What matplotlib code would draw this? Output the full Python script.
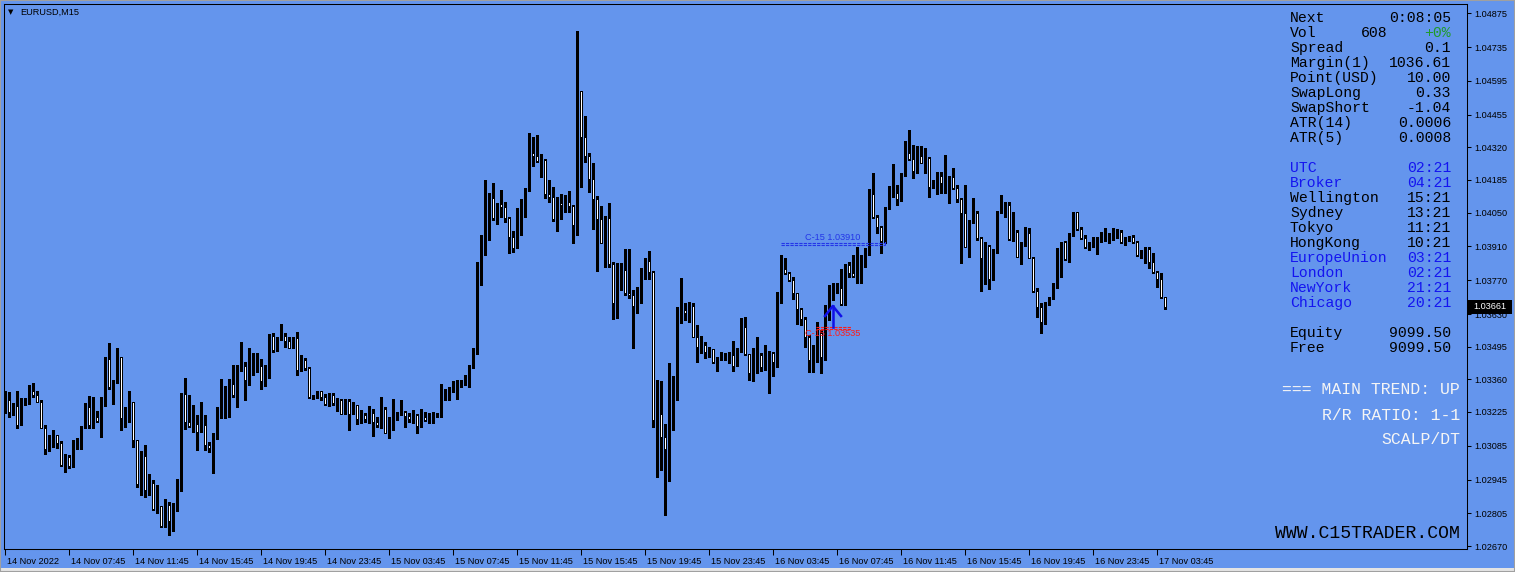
import matplotlib
matplotlib.use("Agg")
import matplotlib.pyplot as plt
from matplotlib.patches import Rectangle
from matplotlib.transforms import ScaledTranslation, blended_transform_factory
import numpy as np

plt.rcParams['font.family'] = ['Liberation Sans', 'DejaVu Sans']

symbol = "EURUSD,M15"
first_open = 1.03230

# EURUSD M15 bars, 14 Nov 03:45 -> 17 Nov 04:15
closes = [
    1.03274, 1.03224, 1.03249, 1.03172, 1.03260, 1.03256, 1.03311, 1.03295, 1.03268, 1.03159,
    1.03073, 1.03125, 1.03130, 1.03095, 1.03006, 1.03037, 1.03002, 1.03104, 1.03108, 1.03162,
    1.03244, 1.03172, 1.03205, 1.03188, 1.03281, 1.03442, 1.03329, 1.03349, 1.03451, 1.03198,
    1.03204, 1.03264, 1.03107, 1.02925, 1.03042, 1.02900, 1.02930, 1.02824, 1.02835, 1.02754,
    1.02838, 1.02772, 1.02838, 1.02939, 1.03297, 1.03182, 1.03166, 1.03173, 1.03143, 1.03169,
    1.03089, 1.03074, 1.03121, 1.03219, 1.03244, 1.03307, 1.03342, 1.03296, 1.03406, 1.03413,
    1.03355, 1.03394, 1.03413, 1.03416, 1.03354, 1.03394, 1.03539, 1.03481, 1.03533, 1.03539,
    1.03517, 1.03491, 1.03531, 1.03400, 1.03438, 1.03406, 1.03286, 1.03289, 1.03311, 1.03288,
    1.03259, 1.03293, 1.03260, 1.03275, 1.03217, 1.03271, 1.03217, 1.03252, 1.03197, 1.03211,
    1.03197, 1.03219, 1.03184, 1.03172, 1.03237, 1.03139, 1.03195, 1.03201, 1.03220, 1.03224,
    1.03206, 1.03197, 1.03212, 1.03165, 1.03205, 1.03191, 1.03187, 1.03212, 1.03213, 1.03289,
    1.03313, 1.03324, 1.03328, 1.03342, 1.03353, 1.03365, 1.03406, 1.03469, 1.03775, 1.03885,
    1.04077, 1.04109, 1.04029, 1.04084, 1.04074, 1.04029, 1.03947, 1.03904, 1.04030, 1.04042,
    1.04147, 1.04295, 1.04283, 1.04262, 1.04266, 1.04125, 1.04113, 1.04025, 1.04089, 1.04080,
    1.04095, 1.04077, 1.04000, 1.04553, 1.04364, 1.04283, 1.04187, 1.04105, 1.04025, 1.03925,
    1.04029, 1.03835, 1.03677, 1.03783, 1.03812, 1.03718, 1.03707, 1.03664, 1.03735, 1.03804,
    1.03849, 1.03802, 1.03191, 1.03216, 1.03122, 1.03072, 1.03201, 1.03332, 1.03651, 1.03646,
    1.03633, 1.03663, 1.03536, 1.03495, 1.03500, 1.03471, 1.03485, 1.03430, 1.03449, 1.03450,
    1.03453, 1.03460, 1.03416, 1.03481, 1.03575, 1.03463, 1.03387, 1.03456, 1.03460, 1.03412,
    1.03456, 1.03470, 1.03430, 1.03715, 1.03815, 1.03798, 1.03771, 1.03715, 1.03649, 1.03608,
    1.03536, 1.03440, 1.03498, 1.03552, 1.03452, 1.03634, 1.03713, 1.03736, 1.03739, 1.03670,
    1.03833, 1.03798, 1.03787, 1.03802, 1.03856, 1.03881, 1.04127, 1.04033, 1.03989, 1.03933,
    1.04067, 1.04127, 1.04130, 1.04105, 1.04205, 1.04298, 1.04270, 1.04222, 1.04284, 1.04256,
    1.04277, 1.04154, 1.04164, 1.04201, 1.04171, 1.04183, 1.04196, 1.04150, 1.04105, 1.04047,
    1.03909, 1.04015, 1.04047, 1.03946, 1.03860, 1.03911, 1.03776, 1.03887, 1.04053, 1.04056,
    1.04081, 1.03939, 1.03968, 1.03867, 1.03918, 1.03964, 1.03863, 1.03726, 1.03660, 1.03595,
    1.03674, 1.03697, 1.03743, 1.03849, 1.03928, 1.03856, 1.03957, 1.04052, 1.03982, 1.03943,
    1.03906, 1.03918, 1.03946, 1.03949, 1.03954, 1.03957, 1.03960, 1.03964, 1.03968, 1.03929,
    1.03939, 1.03950, 1.03928, 1.03874, 1.03877, 1.03899, 1.03846, 1.03805, 1.03773, 1.03699,
    1.03660,
]
highs = [
    1.03313, 1.03308, 1.03260, 1.03313, 1.03281, 1.03281, 1.03336, 1.03343, 1.03313, 1.03274,
    1.03169, 1.03129, 1.03150, 1.03129, 1.03106, 1.03050, 1.03046, 1.03108, 1.03115, 1.03166,
    1.03260, 1.03291, 1.03285, 1.03230, 1.03285, 1.03451, 1.03511, 1.03357, 1.03491, 1.03452,
    1.03246, 1.03313, 1.03267, 1.03108, 1.03064, 1.03086, 1.02968, 1.02943, 1.02922, 1.02830,
    1.02863, 1.02852, 1.02846, 1.02946, 1.03302, 1.03364, 1.03295, 1.03253, 1.03212, 1.03266,
    1.03212, 1.03101, 1.03136, 1.03246, 1.03360, 1.03332, 1.03360, 1.03419, 1.03419, 1.03513,
    1.03430, 1.03491, 1.03467, 1.03470, 1.03442, 1.03419, 1.03546, 1.03550, 1.03536, 1.03589,
    1.03550, 1.03536, 1.03536, 1.03554, 1.03459, 1.03449, 1.03412, 1.03295, 1.03313, 1.03308,
    1.03299, 1.03302, 1.03304, 1.03281, 1.03278, 1.03277, 1.03277, 1.03267, 1.03255, 1.03233,
    1.03219, 1.03249, 1.03239, 1.03205, 1.03285, 1.03244, 1.03205, 1.03277, 1.03226, 1.03274,
    1.03230, 1.03219, 1.03233, 1.03215, 1.03239, 1.03226, 1.03219, 1.03226, 1.03219, 1.03340,
    1.03318, 1.03329, 1.03354, 1.03357, 1.03357, 1.03377, 1.03419, 1.03488, 1.03846, 1.03957,
    1.04185, 1.04132, 1.04171, 1.04088, 1.04143, 1.04095, 1.04033, 1.03973, 1.04067, 1.04105,
    1.04153, 1.04378, 1.04364, 1.04371, 1.04291, 1.04270, 1.04185, 1.04157, 1.04116, 1.04127,
    1.04122, 1.04139, 1.04081, 1.04801, 1.04541, 1.04450, 1.04295, 1.04254, 1.04118, 1.04077,
    1.04036, 1.04091, 1.03846, 1.03840, 1.03840, 1.03898, 1.03898, 1.03729, 1.03743, 1.03819,
    1.03860, 1.03891, 1.03808, 1.03357, 1.03354, 1.03173, 1.03426, 1.03373, 1.03660, 1.03780,
    1.03674, 1.03681, 1.03674, 1.03584, 1.03539, 1.03515, 1.03495, 1.03481, 1.03453, 1.03474,
    1.03470, 1.03474, 1.03518, 1.03488, 1.03615, 1.03619, 1.03463, 1.03488, 1.03536, 1.03467,
    1.03501, 1.03477, 1.03474, 1.03722, 1.03874, 1.03860, 1.03805, 1.03782, 1.03718, 1.03655,
    1.03618, 1.03543, 1.03502, 1.03597, 1.03564, 1.03668, 1.03750, 1.03757, 1.03757, 1.03816,
    1.03835, 1.03846, 1.03874, 1.03909, 1.03874, 1.03904, 1.04146, 1.04212, 1.04040, 1.03994,
    1.04074, 1.04161, 1.04249, 1.04164, 1.04212, 1.04347, 1.04392, 1.04329, 1.04325, 1.04325,
    1.04316, 1.04281, 1.04185, 1.04219, 1.04219, 1.04288, 1.04201, 1.04233, 1.04164, 1.04109,
    1.04164, 1.04019, 1.04109, 1.04058, 1.03950, 1.03929, 1.03915, 1.03898, 1.04058, 1.04121,
    1.04095, 1.04095, 1.04052, 1.03978, 1.03929, 1.03989, 1.03984, 1.03867, 1.03736, 1.03674,
    1.03681, 1.03702, 1.03757, 1.03902, 1.03929, 1.03933, 1.03964, 1.04053, 1.04049, 1.03991,
    1.03957, 1.03929, 1.03950, 1.03943, 1.03971, 1.03984, 1.03964, 1.03984, 1.03982, 1.03978,
    1.03950, 1.03953, 1.03957, 1.03932, 1.03895, 1.03909, 1.03909, 1.03881, 1.03809, 1.03798,
    1.03702,
]
lows = [
    1.03219, 1.03205, 1.03212, 1.03158, 1.03172, 1.03253, 1.03257, 1.03288, 1.03267, 1.03157,
    1.03052, 1.03064, 1.03081, 1.03077, 1.03002, 1.02977, 1.02991, 1.02998, 1.03071, 1.03073,
    1.03157, 1.03159, 1.03157, 1.03184, 1.03122, 1.03251, 1.03318, 1.03256, 1.03343, 1.03150,
    1.03161, 1.03184, 1.03081, 1.02915, 1.02881, 1.02874, 1.02883, 1.02819, 1.02808, 1.02750,
    1.02750, 1.02714, 1.02733, 1.02816, 1.02899, 1.03155, 1.03164, 1.03140, 1.03067, 1.03142,
    1.03067, 1.03060, 1.02973, 1.03111, 1.03198, 1.03198, 1.03205, 1.03288, 1.03246, 1.03395,
    1.03275, 1.03336, 1.03377, 1.03391, 1.03318, 1.03332, 1.03366, 1.03474, 1.03475, 1.03522,
    1.03495, 1.03488, 1.03488, 1.03377, 1.03395, 1.03398, 1.03284, 1.03278, 1.03281, 1.03274,
    1.03253, 1.03249, 1.03252, 1.03228, 1.03216, 1.03216, 1.03150, 1.03216, 1.03175, 1.03177,
    1.03184, 1.03177, 1.03126, 1.03164, 1.03159, 1.03136, 1.03118, 1.03150, 1.03191, 1.03212,
    1.03164, 1.03184, 1.03177, 1.03136, 1.03161, 1.03188, 1.03177, 1.03177, 1.03202, 1.03205,
    1.03274, 1.03274, 1.03308, 1.03277, 1.03329, 1.03336, 1.03329, 1.03405, 1.03463, 1.03750,
    1.03874, 1.03936, 1.04019, 1.04002, 1.04033, 1.04012, 1.03884, 1.03888, 1.03902, 1.03957,
    1.04033, 1.04140, 1.04243, 1.04258, 1.04196, 1.04111, 1.04095, 1.04015, 1.03975, 1.04023,
    1.04053, 1.04053, 1.03922, 1.03957, 1.04157, 1.04260, 1.04136, 1.03982, 1.03809, 1.03922,
    1.03826, 1.03823, 1.03609, 1.03612, 1.03729, 1.03708, 1.03695, 1.03488, 1.03633, 1.03677,
    1.03777, 1.03773, 1.03163, 1.02954, 1.02984, 1.02800, 1.02940, 1.03150, 1.03274, 1.03594,
    1.03605, 1.03598, 1.03533, 1.03432, 1.03467, 1.03450, 1.03453, 1.03426, 1.03395, 1.03439,
    1.03439, 1.03426, 1.03395, 1.03416, 1.03474, 1.03460, 1.03357, 1.03354, 1.03384, 1.03395,
    1.03398, 1.03304, 1.03375, 1.03412, 1.03677, 1.03794, 1.03768, 1.03691, 1.03587, 1.03585,
    1.03494, 1.03390, 1.03390, 1.03432, 1.03386, 1.03440, 1.03605, 1.03688, 1.03715, 1.03666,
    1.03667, 1.03784, 1.03784, 1.03757, 1.03757, 1.03826, 1.03874, 1.04026, 1.03964, 1.03881,
    1.03922, 1.04063, 1.04113, 1.04081, 1.04099, 1.04201, 1.04267, 1.04191, 1.04212, 1.04254,
    1.04212, 1.04116, 1.04150, 1.04127, 1.04129, 1.04132, 1.04091, 1.04146, 1.04095, 1.03842,
    1.03906, 1.03864, 1.04008, 1.03936, 1.03726, 1.03754, 1.03735, 1.03771, 1.03881, 1.04047,
    1.04033, 1.03936, 1.03933, 1.03864, 1.03837, 1.03911, 1.03860, 1.03722, 1.03619, 1.03550,
    1.03588, 1.03667, 1.03691, 1.03736, 1.03784, 1.03853, 1.03846, 1.03954, 1.03978, 1.03940,
    1.03902, 1.03895, 1.03909, 1.03877, 1.03929, 1.03933, 1.03922, 1.03936, 1.03943, 1.03925,
    1.03915, 1.03933, 1.03922, 1.03870, 1.03860, 1.03840, 1.03822, 1.03801, 1.03743, 1.03695,
    1.03651,
]
opens = [first_open] + closes[:-1]

price_ticks = [1.04875, 1.04735, 1.04595, 1.04455, 1.04320, 1.04185, 1.04050, 1.03910, 1.03770,
               1.03630, 1.03495, 1.03360, 1.03225, 1.03085, 1.02945, 1.02805, 1.02670]
time_labels = ["14 Nov 2022", "14 Nov 07:45", "14 Nov 11:45", "14 Nov 15:45", "14 Nov 19:45",
               "14 Nov 23:45", "15 Nov 03:45", "15 Nov 07:45", "15 Nov 11:45", "15 Nov 15:45",
               "15 Nov 19:45", "15 Nov 23:45", "16 Nov 03:45", "16 Nov 07:45", "16 Nov 11:45",
               "16 Nov 15:45", "16 Nov 19:45", "16 Nov 23:45", "17 Nov 03:45"]
bars_per_label = 16
current_bid = 1.03661

# signal markers (bar index, price)
signal_bar = 207
signal_high = 1.03910
signal_low = 1.03535

# info panel
info_rows = [("Next", "0:08:05", "k"), ("Vol", "", "k"), ("Spread", "0.1", "k"),
             ("Margin(1)", "1036.61", "k"), ("Point(USD)", "10.00", "k"), ("SwapLong", "0.33", "k"),
             ("SwapShort", "-1.04", "k"), ("ATR(14)", "0.0006", "k"), ("ATR(5)", "0.0008", "k"),
             None,
             ("UTC", "02:21", "b"), ("Broker", "04:21", "b"), ("Wellington", "15:21", "k"),
             ("Sydney", "13:21", "k"), ("Tokyo", "11:21", "k"), ("HongKong", "10:21", "k"),
             ("EuropeUnion", "03:21", "b"), ("London", "02:21", "b"), ("NewYork", "21:21", "b"),
             ("Chicago", "20:21", "b"),
             None,
             ("Equity", "9099.50", "k"), ("Free", "9099.50", "k")]
vol_value = "608"
vol_change = "+0%"
trend_lines = ["=== MAIN TREND: UP", "R/R RATIO: 1-1", "SCALP/DT"]
site = "WWW.C15TRADER.COM"

BG = '#6495ED'
BLUE = '#1414f0'
W, H = 1515, 572

fig = plt.figure(figsize=(W / 100, H / 100), dpi=100, facecolor=BG)
ax = fig.add_axes([4 / W, 23 / H, 1463 / W, 545 / H], facecolor=BG)

x = np.arange(len(closes))
o = np.array(opens)
c = np.array(closes)
hi = np.maximum(np.array(highs), np.maximum(o, c))
lo = np.minimum(np.array(lows), np.minimum(o, c))
up = c >= o

ax.vlines(x, lo, hi, color='black', linewidth=0.75, zorder=2, antialiased=False)
ax.bar(x[up], c[up] - o[up], bottom=o[up], width=0.62, color='black',
       edgecolor='black', linewidth=0.7, zorder=3, antialiased=False)
ax.bar(x[~up], o[~up] - c[~up], bottom=c[~up], width=0.62, color='white',
       edgecolor='black', linewidth=0.7, zorder=3, antialiased=False)

ax.set_xlim(-0.25, 365.5)
ax.set_ylim(1.026576, 1.04913)

for s in ax.spines.values():
    s.set_color('black')
    s.set_linewidth(0.75)

# price axis on the right
ax.yaxis.tick_right()
ax.set_yticks(price_ticks, ['%.5f' % p for p in price_ticks])
ax.tick_params(axis='y', direction='out', length=3, width=0.75, pad=2,
               labelsize=6.6, colors='black')

# time axis, labels to the right of each tick
tpos = [k * bars_per_label for k in range(len(time_labels))]
ax.set_xticks(tpos, time_labels)
ax.tick_params(axis='x', direction='out', length=4, width=0.75, pad=2,
               labelsize=6.6, colors='black')
shift = ScaledTranslation(2 / 100, 0, fig.dpi_scale_trans)
for lab in ax.get_xticklabels():
    lab.set_horizontalalignment('left')
    lab.set_transform(lab.get_transform() + shift)

# current bid box
bt = blended_transform_factory(ax.transAxes, ax.transData)
half = 7 / 545 * (1.04913 - 1.026576)
ax.add_patch(Rectangle((1.0007, current_bid - half), 44 / 1463, 2 * half, transform=bt,
                       facecolor='black', edgecolor='none', clip_on=False, zorder=10))
ax.text(1.0007 + 22 / 1463, current_bid, '%.5f' % current_bid, transform=bt, color='white',
        fontsize=6.6, ha='center', va='center', clip_on=False, zorder=11)

# signal lines and labels
yscale = (1.04913 - 1.026576) / 545
ax.hlines([signal_high + 1 * yscale, signal_high + 3 * yscale], 194, 220, colors='#2436e8',
          linestyles=(0, (3, 1)), linewidth=0.8, zorder=4)
ax.vlines(220, signal_high + 1 * yscale, signal_high + 6 * yscale, colors='#2436e8', linewidth=0.8)
ax.text(signal_bar, signal_high + 9 * yscale, 'C-15 %.5f' % signal_high, color='#2436e8',
        fontsize=6.6, ha='center', va='center', zorder=5)
ax.hlines([signal_low + 8 * yscale, signal_low + 10 * yscale], 202.7, 211.4, colors='#ff1a1a',
          linestyles=(0, (3, 1)), linewidth=0.8, zorder=6)
ax.text(signal_bar, signal_low + 3 * yscale, 'C-15 %.5f' % signal_low, color='#ff1a1a',
        fontsize=6.6, ha='center', va='center', zorder=6)

# buy arrow
apex = signal_low + 31 * yscale
arm = apex - 11 * yscale
ax.plot([signal_bar - 2.2, signal_bar - 0.05, signal_bar + 2.2], [arm, apex, arm],
        color='#1010e8', linewidth=1.8, solid_capstyle='butt', zorder=7)
ax.plot([signal_bar - 0.05, signal_bar - 0.05], [apex, signal_low + 10 * yscale],
        color='#1010e8', linewidth=1.8, zorder=7)


def fx(px):
    return px / W


def fy(py):
    return 1 - py / H


# title
fig.text(fx(8), fy(12.5), '\u25bc', fontsize=5, family='DejaVu Sans', va='center', ha='left')
fig.text(fx(20), fy(12.7), symbol, fontsize=6.6, va='center', ha='left')

mono = dict(family='Liberation Mono', fontsize=10.6, va='center')
yy = 18
for row in info_rows:
    if row is None:
        yy += 15
        continue
    name, val, col = row
    color = BLUE if col == 'b' else 'black'
    fig.text(fx(1290), fy(yy), name, color=color, ha='left', **mono)
    if name == "Vol":
        fig.text(fx(1388), fy(yy), vol_value, color='black', ha='right', **mono)
        fig.text(fx(1451), fy(yy), vol_change, color='#1f9a2a', ha='right', **mono)
    else:
        fig.text(fx(1451), fy(yy), val, color=color, ha='right', **mono)
    yy += 15

for k, t in enumerate(trend_lines):
    fig.text(fx(1460), fy(390 + 25 * k), t, color='#f5f5f5', ha='right', va='center',
             family='Liberation Mono', fontsize=11.9)

fig.text(fx(1460), fy(534), site, color='black', ha='right', va='center',
         family='Liberation Mono', fontsize=13.1)

# window border and bottom strip
fig.patches.append(Rectangle((0, 0), 1, 4 / H, transform=fig.transFigure,
                             facecolor='#e4e4e4', edgecolor='none'))
fig.patches.append(Rectangle((0, 0), 1, 1, transform=fig.transFigure, fill=False,
                             edgecolor='#a0a0a0', linewidth=1.5))

fig.savefig('out.png', dpi=100, facecolor=BG)
